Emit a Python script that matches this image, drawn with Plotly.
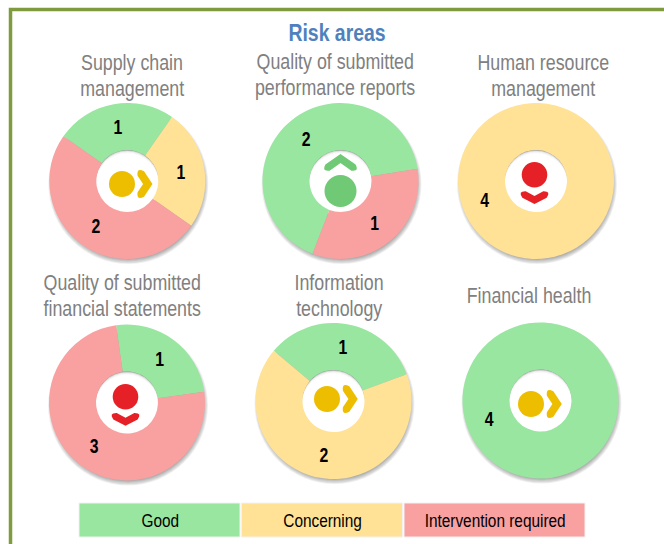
import math
import plotly.graph_objects as go

W, H = 664, 544

# ---- data ----
areas = ["Supply chain<br>management", "Quality of submitted<br>performance reports",
         "Human resource<br>management", "Quality of submitted<br>financial statements",
         "Information<br>technology", "Financial health"]
status = ["Good", "Concerning", "Intervention required"]
good = [1, 2, 0, 1, 1, 4]
concerning = [1, 0, 4, 0, 2, 0]
intervention = [2, 1, 0, 3, 0, 0]
trend = ["flat", "up", "down", "down", "flat", "flat"]

# ---- layout / style ----
COL = {"Good": "#98E6A0", "Concerning": "#FFE296", "Intervention required": "#F9A0A0"}
ICON = {"flat": "#EDBE00", "up": "#70C975", "down": "#E52026"}
FONT = "Liberation Sans, Arial, sans-serif"
R, HOLE = 78, 31
centers = [(127.3, 181), (340.5, 181), (536, 181), (127, 402.5), (333.5, 401), (540.5, 400.5)]
rotations = [305, 201, 70, -8, -50, 70]
title_pos = [(132, 62), (334.5, 61), (543, 62), (121.5, 282), (338.5, 282), (528.5, 295)]
dot_off = [(-5.3, 3), (0, 10), (-1.5, -6.3), (-1.5, -5.8), (-6.5, -2), (-9.5, 3.5)]
tip_off = [(20.5, 3), (0, -22.4), (-1.5, 19), (-1.5, 19.2), (19.6, -2), (16.6, 3.5)]
dot_r = {"flat": 13, "up": 16, "down": 12.8}
# depth, half span and half thickness of each chevron
chev = {"flat": (7, 10.5, 3.9), "up": (9, 13, 3.7), "down": (5.5, 10.5, 3.6)}
legend_x = [(79, 240), (241.5, 402.5), (404, 585)]
LINE = 26
SQUEEZE = 0.81  # the reference face is a narrow sans


def circle(cx, cy, r, color, opacity=1.0, layer="below"):
    return dict(type="circle", xref="x", yref="y", x0=cx - r, x1=cx + r, y0=cy - r, y1=cy + r,
                fillcolor=color, opacity=opacity, line_width=0, layer=layer)


def chevron(tx, ty, kind, color):
    d, s, t = chev[kind]
    L = math.hypot(d, s)
    ux, uy = d / L, s / L            # unit vector of the lower arm, tip towards end (along, across)
    nx, ny = uy, -ux
    miter = t / uy

    def tr(a, b):
        if kind == "flat":
            return tx + a, ty + b
        if kind == "down":
            return tx + b, ty + a
        return tx + b, ty - a

    A = (-d, -s)
    C = (-d, s)
    seq = [
        (A[0] + t * nx, A[1] + t * ny), (miter, 0), (C[0] + t * nx, C[1] - t * ny),
        (C[0] - 2 * t * ux, C[1] + 2 * t * uy), (C[0] - t * nx, C[1] + t * ny),
        (-miter, 0), (A[0] - t * nx, A[1] - t * ny),
        (A[0] - 2 * t * ux, A[1] - 2 * t * uy),
    ]
    p = [tr(*q) for q in seq]
    path = (f"M{p[0][0]:.2f},{p[0][1]:.2f} L{p[1][0]:.2f},{p[1][1]:.2f} L{p[2][0]:.2f},{p[2][1]:.2f} "
            f"Q{p[3][0]:.2f},{p[3][1]:.2f} {p[4][0]:.2f},{p[4][1]:.2f} L{p[5][0]:.2f},{p[5][1]:.2f} "
            f"L{p[6][0]:.2f},{p[6][1]:.2f} Q{p[7][0]:.2f},{p[7][1]:.2f} {p[0][0]:.2f},{p[0][1]:.2f} Z")
    return dict(type="path", xref="x", yref="y", path=path, fillcolor=color, line_width=0, layer="above")


fig = go.Figure()
# hidden pixel-scale axes carry the frame, icons and text
fig.add_trace(go.Scatter(x=[0, W], y=[0, H], mode="markers", marker_opacity=0, hoverinfo="skip", showlegend=False))

shapes, annotations = [], []
shapes.append(dict(type="rect", xref="x", yref="y", x0=10.5, y0=9.5, x1=W + 20, y1=H + 20,
                   line=dict(color="#7F9A3F", width=3.5), fillcolor="white", layer="below"))

for i, name in enumerate(areas):
    cx, cy = centers[i]
    triple = (good[i], concerning[i], intervention[i])
    vals = [v for v in triple if v]
    labs = [s for s, v in zip(status, triple) if v]
    # soft outer shadow
    for k in range(7):
        shapes.append(circle(cx + 1, cy + 3, R + 2 - k * 0.8, "#000000", 0.055))
    # hole with inner shadow falling from the top edge
    shapes.append(circle(cx, cy, HOLE + 1, "#8E8E8E"))
    for k in range(5):
        shapes.append(circle(cx, cy + 0.7 * (k + 1), HOLE + 0.5, "#FFFFFF", 0.5))
    shapes.append(circle(cx, cy + 4, HOLE + 0.5, "#FFFFFF"))
    fig.add_trace(go.Pie(
        values=vals, labels=labs,
        hole=HOLE / R, sort=False, direction="clockwise", rotation=rotations[i],
        marker=dict(colors=[COL[s] for s in labs], line_width=0),
        textinfo="value", textposition="inside", insidetextorientation="horizontal",
        textfont=dict(family=FONT, size=19.5, color="black", weight="bold"),
        showlegend=False, hoverinfo="label+value",
        domain=dict(x=[(cx - R) / W, (cx + R) / W], y=[1 - (cy + R) / H, 1 - (cy - R) / H])))
    # icon
    t = trend[i]
    shapes.append(circle(cx + dot_off[i][0], cy + dot_off[i][1], dot_r[t], ICON[t], layer="above"))
    shapes.append(chevron(cx + tip_off[i][0], cy + tip_off[i][1], t, ICON[t]))
    # heading
    tx, ty = title_pos[i]
    for j, line in enumerate(name.split("<br>")):
        annotations.append(dict(x=tx, y=ty + j * LINE, text=line, xref="x", yref="y", showarrow=False,
                                xanchor="center", yanchor="middle",
                                font=dict(family=FONT, size=22, color="#808080")))

annotations.append(dict(x=336.5, y=32, text="<b>Risk areas</b>", xref="x", yref="y", showarrow=False,
                        xanchor="center", yanchor="middle", font=dict(family=FONT, size=24, color="#4F81BD")))

for s, (x0, x1) in zip(status, legend_x):
    shapes.append(dict(type="rect", xref="x", yref="y", x0=x0, x1=x1, y0=503, y1=537,
                       fillcolor=COL[s], line=dict(color="#F2F2F2", width=1), layer="below"))
    annotations.append(dict(x=(x0 + x1) / 2, y=520.5, text=s, xref="x", yref="y", showarrow=False,
                            xanchor="center", yanchor="middle", font=dict(family=FONT, size=19, color="black")))

fig.update_layout(
    width=W, height=H, margin=dict(l=0, r=0, t=0, b=0),
    paper_bgcolor="white", plot_bgcolor="white", showlegend=False,
    xaxis=dict(range=[0, W], visible=False, fixedrange=True),
    yaxis=dict(range=[H, 0], visible=False, fixedrange=True),
    shapes=shapes, annotations=annotations)

squeeze_js = """
document.body.style.margin = '0';
document.querySelectorAll('.annotation-text, .slicetext text').forEach(function (t) {
  var b = t.getBBox(), c = b.x + b.width / 2;
  var prev = t.getAttribute('transform') || '';
  t.setAttribute('transform', prev + ' translate(' + c + ',0) scale(%s,1) translate(' + (-c) + ',0)');
});
""" % SQUEEZE
fig.write_html("out.html", post_script=squeeze_js, config={"displayModeBar": False})
